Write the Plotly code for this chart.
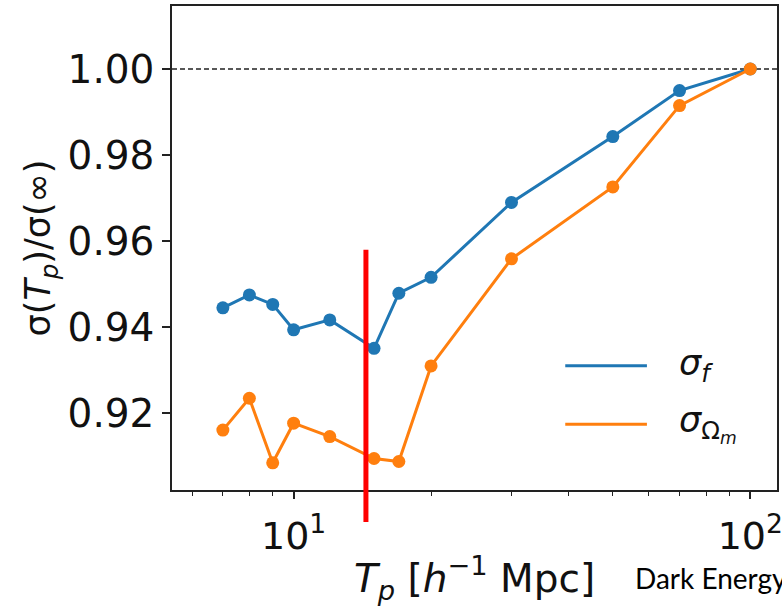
import plotly.graph_objects as go

# ---- data ----
tp = [7, 8, 9, 10, 12, 15, 17, 20, 30, 50, 70, 100]
sigma_f = [0.9445, 0.9475, 0.9453, 0.9394, 0.9417, 0.9351, 0.9479, 0.9516,
           0.9690, 0.9843, 0.9950, 1.000]
sigma_om = [0.9161, 0.9235, 0.9085, 0.9177, 0.9146, 0.9095, 0.9088, 0.9310,
            0.9559, 0.9726, 0.9915, 1.000]
series_names = ["<i>σ<sub>f</sub></i>", "<i>σ</i><sub>Ω<sub><i>m</i></sub></sub>"]
ref_level = 1.0
marker_x = 14.4
marker_top = 0.958
y_ticks = [0.92, 0.94, 0.96, 0.98, 1.00]
x_ticks = [10, 100]
x_ticktext = ["10<sup>1</sup>", "10<sup>2</sup>"]
x_minor = [6, 7, 8, 9, 20, 30, 40, 50, 60, 70, 80, 90]

BLUE = "#1f77b4"
ORANGE = "#ff7f0e"
FONT = "DejaVu Sans"

y_range = [0.90218, 1.01464]
x_range_log = [0.7337, 2.0585]

fig = go.Figure()
for ys, col in [(sigma_f, BLUE), (sigma_om, ORANGE)]:
    fig.add_trace(go.Scatter(
        x=tp, y=ys, mode="lines+markers",
        line=dict(color=col, width=3),
        marker=dict(color=col, size=13),
        showlegend=False, hoverinfo="skip",
    ))

# dashed reference line at 1.00
fig.add_shape(type="line", xref="paper", yref="y", x0=0, x1=1,
              y0=ref_level, y1=ref_level,
              line=dict(color="#222222", width=1.6, dash="5px,3px"), layer="below")

# red vertical marker (extends below the axes)
top_frac = (marker_top - y_range[0]) / (y_range[1] - y_range[0])
fig.add_shape(type="line", xref="x", yref="y domain", x0=marker_x, x1=marker_x,
              y0=-0.066, y1=top_frac, line=dict(color="#ff0000", width=5))

# legend (drawn manually to match long line samples)
leg_y = [0.2568, 0.1357]
for nm, col, ly in zip(series_names, [BLUE, ORANGE], leg_y):
    fig.add_shape(type="line", xref="paper", yref="paper", x0=0.650, x1=0.785,
                  y0=ly, y1=ly, line=dict(color=col, width=3))
    fig.add_annotation(xref="paper", yref="paper", x=0.835, y=ly, text=nm,
                       showarrow=False, xanchor="left", yanchor="middle",
                       font=dict(family=FONT, size=35, color="#111111"))

fig.add_annotation(xref="paper", yref="paper", x=0.762, y=-0.182,
                   text="Dark Energy", showarrow=False, xanchor="left",
                   yanchor="middle", font=dict(family="Lato", size=28, color="#000000"))

fig.update_layout(
    width=782, height=606,
    margin=dict(l=172, r=5, t=6, b=116, autoexpand=False),
    paper_bgcolor="white", plot_bgcolor="white",
    font=dict(family=FONT, size=34, color="#111111"),
)
fig.update_xaxes(
    type="log", range=x_range_log, automargin=False,
    tickmode="array", tickvals=x_ticks, ticktext=x_ticktext,
    ticks="outside", ticklen=7, tickwidth=1.5, tickcolor="#222222",
    ticklabelstandoff=5, ticklabeloverflow="allow",
    showline=True, linecolor="#222222", linewidth=1.5, mirror=True,
    showgrid=False, zeroline=False,
    tickfont=dict(family=FONT, size=38),
    minor=dict(tickmode="array", tickvals=x_minor, ticks="outside", ticklen=4,
               tickwidth=1.2, tickcolor="#222222", showgrid=False),
    title=dict(text="<i>T</i><sub><i>p</i></sub> [<i>h</i><sup>−1</sup> Mpc]",
               font=dict(family=FONT, size=39), standoff=8),
)
fig.update_yaxes(
    range=y_range, automargin=False, tickmode="array", tickvals=y_ticks,
    ticktext=[f"{v:.2f}" for v in y_ticks],
    ticks="outside", ticklen=8, tickwidth=1.5, tickcolor="#222222",
    showline=True, linecolor="#222222", linewidth=1.5, mirror=True,
    showgrid=False, zeroline=False,
    tickfont=dict(family=FONT, size=39),
    title=dict(text="σ(<i>T</i><sub><i>p</i></sub>)/σ(∞)",
               font=dict(family=FONT, size=35), standoff=6),
)

fig.write_html("out.html")
